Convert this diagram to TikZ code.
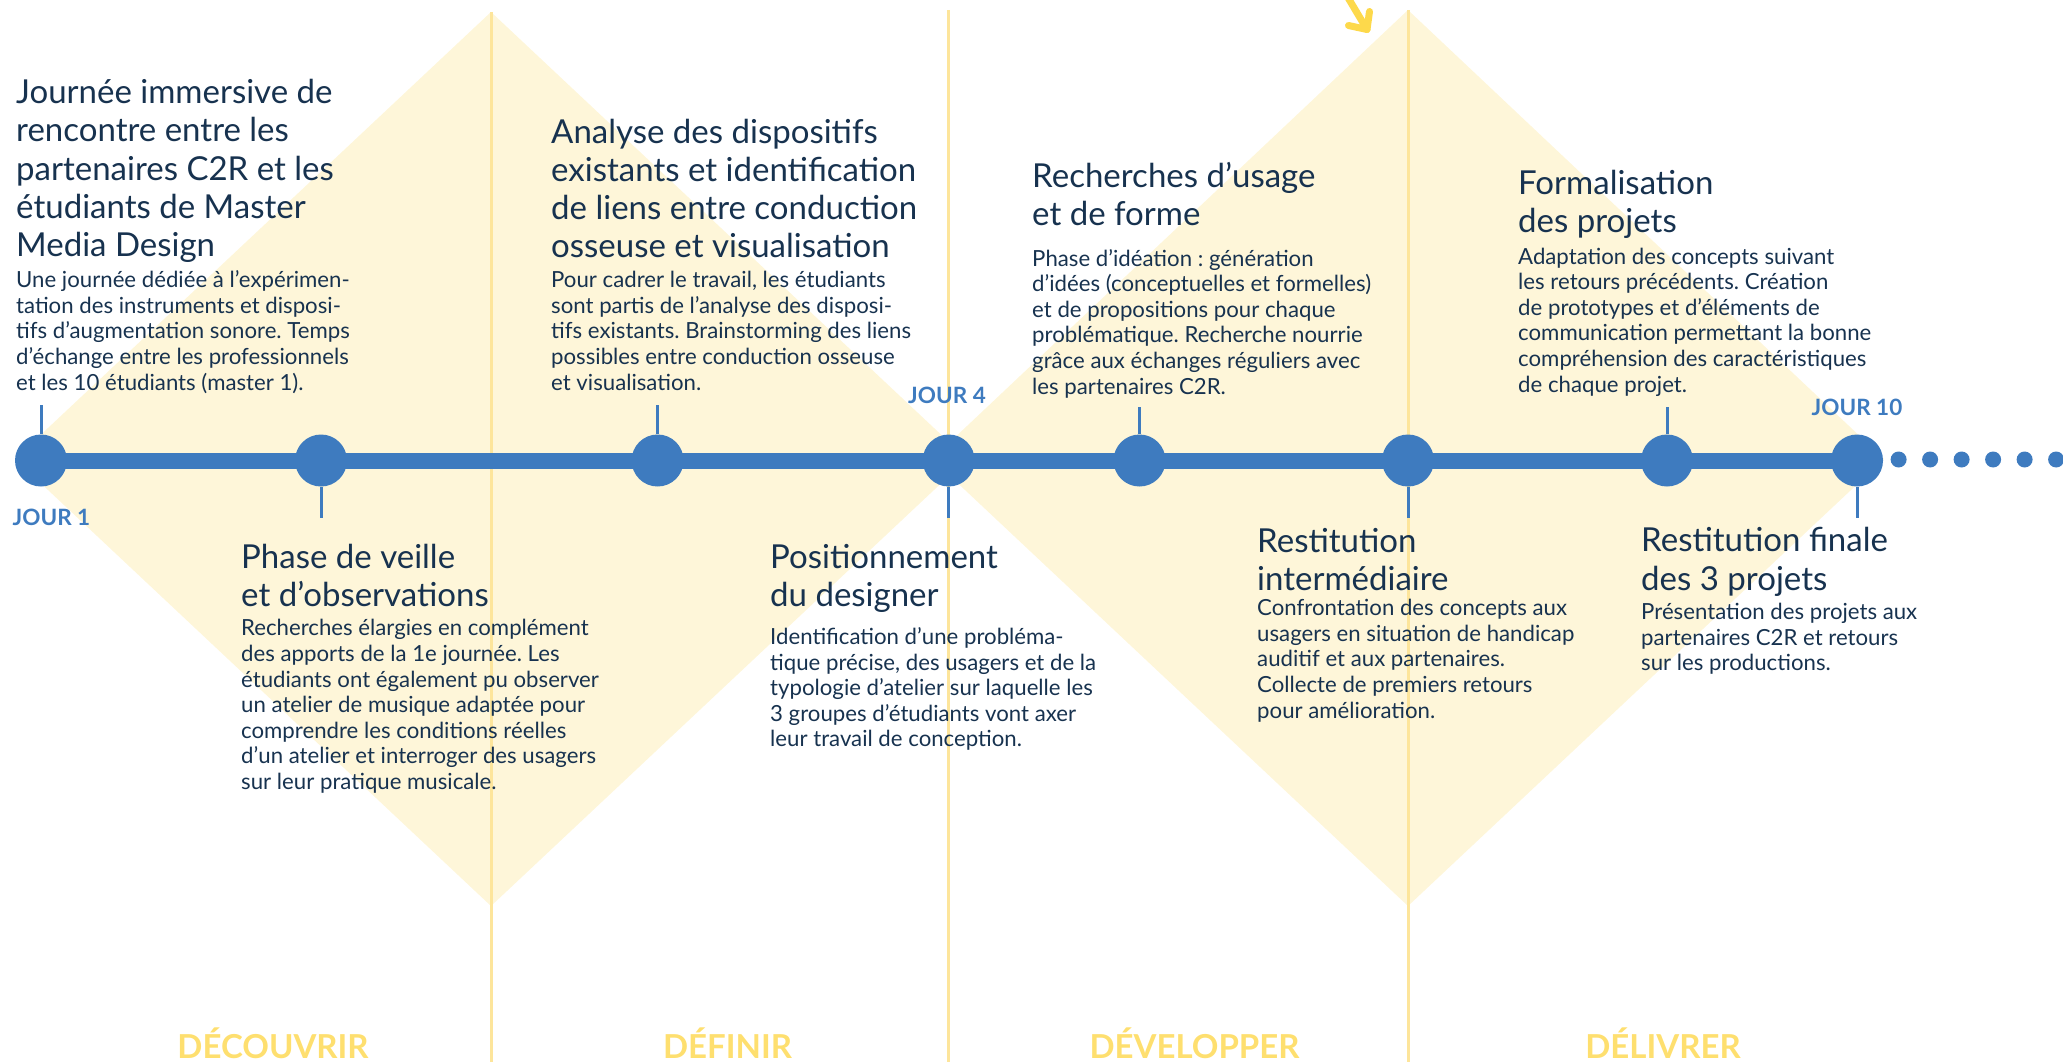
\documentclass[tikz,border=0pt]{standalone}
\usepackage{fontspec}
\setmainfont{Lato}
\frenchspacing
\definecolor{navy}{HTML}{17324F}
\definecolor{tlblue}{HTML}{3E7BBF}
\definecolor{paleyellow}{HTML}{FEF6D9}
\definecolor{guideyellow}{HTML}{FDE59B}
\definecolor{phaseyellow}{HTML}{FEDF6F}
\definecolor{arrowyellow}{HTML}{FDD94B}
\begin{document}
\begin{tikzpicture}[x=1pt,y=-1pt,
  % multi-line nodes: the base anchor sits on the last line
  title/.style={anchor=base west, inner sep=0pt, align=left, text=navy,
    font=\fontsize{33}{38.3}\selectfont},
  body/.style={anchor=base west, inner sep=0pt, align=left, text=navy,
    font=\fontsize{22.2}{25.6}\selectfont},
  jour/.style={inner sep=0pt, text=tlblue, font=\fontsize{22.5}{25}\selectfont\bfseries},
  phase/.style={anchor=base, inner sep=0pt, text=phaseyellow, font=\fontsize{33}{36}\selectfont\bfseries},
  milestone/.style={circle, fill=tlblue, minimum size=52pt, inner sep=0pt},
  dotmark/.style={circle, fill=tlblue, minimum size=16pt, inner sep=0pt},
  axis/.style={draw=tlblue, line width=16pt},
  tick/.style={draw=tlblue, line width=3pt},
  guide/.style={draw=guideyellow, line width=3pt},
  diamondfill/.style={fill=paleyellow},
  pointer/.style={draw=arrowyellow, line width=7pt, line cap=round, line join=round}]

\useasboundingbox (0,0) rectangle (2063,1062);

% the two lozenges of the double diamond
\fill[diamondfill] (15,459) -- (491,12) -- (967,459) -- (491,906) -- cycle;
\fill[diamondfill] (932,459) -- (1408,10) -- (1884,459) -- (1408,906) -- cycle;

% phase separators
\draw[guide] (491,12) -- (491,1062);
\draw[guide] (948.7,10) -- (948.7,1062);
\draw[guide] (1408,10) -- (1408,1062);

% pointer arrow at the top
\coordinate (ps) at (1347,-4);
\coordinate (pt) at (1367,29.5);
\coordinate (pa) at (1348.5,25.5);
\coordinate (pb) at (1369.5,11.5);
\draw[pointer] (ps) -- (pt);
\draw[pointer] (pa) -- (pt) -- (pb);

% timeline milestones
\coordinate (c1) at (41,460.5);
\coordinate (c2) at (321,460.5);
\coordinate (c3) at (657.6,460.5);
\coordinate (c4) at (948.7,460.5);
\coordinate (c5) at (1139.5,460.5);
\coordinate (c6) at (1408,460.5);
\coordinate (c7) at (1667,460.5);
\coordinate (c8) at (1857,460.5);
\draw[axis] (c1) -- (c8);
\foreach \i in {1,...,8} {\node[milestone] (m\i) at (c\i) {};}

% ticks linking milestones to their text
\coordinate (k1) at (41,405);
\coordinate (k2) at (321,518);
\coordinate (k3) at (657.6,405);
\coordinate (k4) at (948.7,518);
\coordinate (k5) at (1139.5,407);
\coordinate (k6) at (1408,518);
\coordinate (k7) at (1667,407);
\coordinate (k8) at (1857,518);
\foreach \i in {1,...,8} {\draw[tick] (m\i) -- (k\i);}

% continuation dots
\foreach \j [count=\n] in {0,...,5} {
  \node[dotmark] (d\n) at (1898.6+31.5*\j,459.5) {};
}

% day labels
\node[jour, anchor=base west] (j1) at (12.5,525) {JOUR 1};
\node[jour, anchor=base] (j4) at (947,403.6) {JOUR 4};
\node[jour, anchor=base] (j10) at (1857,415) {JOUR 10};

% step descriptions
\node[title] (t1) at (16,256.8) {Journée immersive de\\rencontre entre les\\partenaires C2R et les\\étudiants de Master\\Media Design};
\node[body] (b1) at (16,390) {Une journée dédiée à l’expérimen-\\tation des instruments et disposi-\\tifs d’augmentation sonore. Temps\\d’échange entre les professionnels\\et les 10 étudiants (master 1).};

\node[title] (t2) at (241,606.6) {Phase de veille\\et d’observations};
\node[body] (b2) at (241,789.4) {Recherches élargies en complément\\des apports de la 1e journée. Les\\étudiants ont également pu observer\\un atelier de musique adaptée pour\\comprendre les conditions réelles\\d’un atelier et interroger des usagers\\sur leur pratique musicale.};

\node[title] (t3) at (551,257.9) {Analyse des dispositifs\\existants et identification\\de liens entre conduction\\osseuse et visualisation};
\node[body] (b3) at (551,390) {Pour cadrer le travail, les étudiants\\sont partis de l’analyse des disposi-\\tifs existants. Brainstorming des liens\\possibles entre conduction osseuse\\et visualisation.};

\node[title] (t4) at (770,606.6) {Positionnement\\du designer};
\node[body] (b4) at (770,746.9) {Identification d’une probléma-\\tique précise, des usagers et de la\\typologie d’atelier sur laquelle les\\3 groupes d’étudiants vont axer\\leur travail de conception.};

\node[title] (t5) at (1032,225.5) {Recherches d’usage\\et de forme};
\node[body] (b5) at (1032,394) {Phase d’idéation : génération\\d’idées (conceptuelles et formelles)\\et de propositions pour chaque\\problématique. Recherche nourrie\\grâce aux échanges réguliers avec\\les partenaires C2R.};

\node[title] (t6) at (1257,590.8) {Restitution\\intermédiaire};
\node[body] (b6) at (1257,718.1) {Confrontation des concepts aux\\usagers en situation de handicap\\auditif et aux partenaires.\\Collecte de premiers retours\\pour amélioration.};

\node[title] (t7) at (1518,232.6) {Formalisation\\des projets};
\node[body] (b7) at (1518,392) {Adaptation des concepts suivant\\les retours précédents. Création\\de prototypes et d’éléments de\\communication permettant la bonne\\compréhension des caractéristiques\\de chaque projet.};

\node[title] (t8) at (1641,590) {Restitution finale\\des 3 projets};
\node[body] (b8) at (1641,670.6) {Présentation des projets aux\\partenaires C2R et retours\\sur les productions.};

% phase names
\node[phase] (p1) at (273,1058.5) {DÉCOUVRIR};
\node[phase] (p2) at (727.5,1058.5) {DÉFINIR};
\node[phase] (p3) at (1194.5,1058.5) {DÉVELOPPER};
\node[phase] (p4) at (1663,1058.5) {DÉLIVRER};
\end{tikzpicture}
\end{document}
